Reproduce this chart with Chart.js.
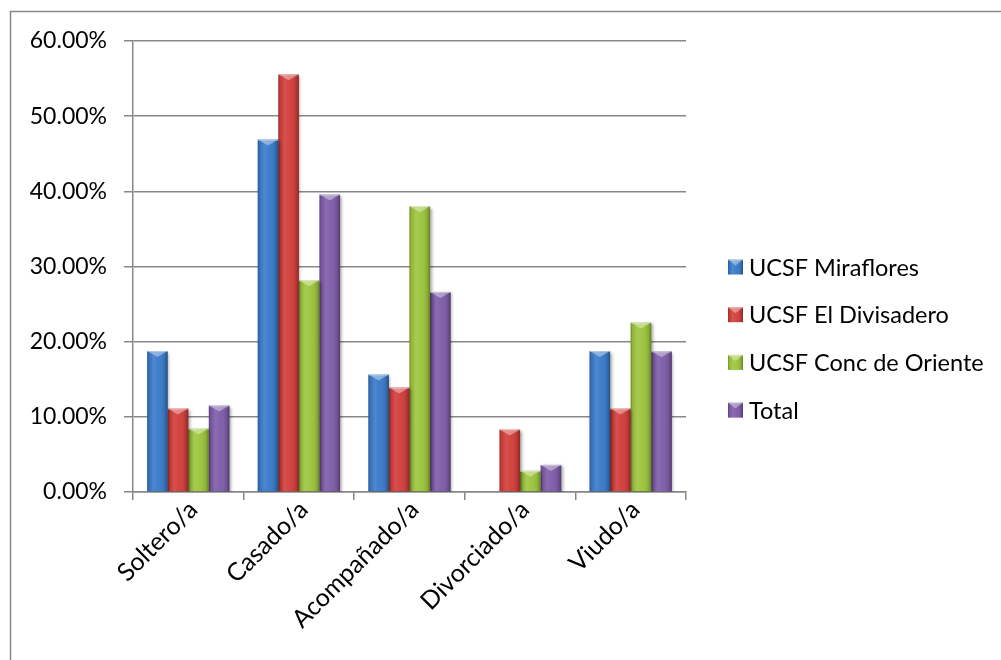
<!DOCTYPE html>
<html>
<head>
<meta charset="utf-8">
<script src="https://cdn.jsdelivr.net/npm/chart.js@4/dist/chart.umd.min.js"></script>
<style>
  html, body { margin: 0; padding: 0; background: #fff; }
  #wrap { width: 1001px; height: 660px; }
</style>
</head>
<body>
<div id="wrap"><canvas id="chart" width="1001" height="660"></canvas></div>
<script>
// Estado civil por unidad de salud (porcentaje)
const categories = ['Soltero/a', 'Casado/a', 'Acompañado/a', 'Divorciado/a', 'Viudo/a'];
const miraflores = [18.75, 46.88, 15.63, 0, 18.75];
const divisadero = [11.11, 55.56, 13.89, 8.33, 11.11];
const concOriente = [8.45, 28.17, 38.03, 2.82, 22.54];
const total = [11.51, 39.57, 26.62, 3.60, 18.71];
const seriesNames = ['UCSF Miraflores', 'UCSF El Divisadero', 'UCSF Conc de Oriente', 'Total'];
const seriesColors = ['#3a7ac9', '#d13e3b', '#9cc53d', '#7e5ca8'];
const yTickValues = [0, 10, 20, 30, 40, 50, 60];

const FONT = 'Lato, "Open Sans", sans-serif';
const FONT_SIZE = 23;
const LEGEND_FONT_SIZE = 23.5;
const X_FONT_SIZE = 25;
const LINE = '#878787';

// Bevelled look for a bar-shaped rectangle
function bevel(ctx, l, t, w, h) {
  if (h < 0.5 || w < 0.5) return;
  const r = l + w, cx = l + w / 2;
  const g = ctx.createLinearGradient(l, 0, r, 0);
  g.addColorStop(0, 'rgba(0,0,0,0.30)');
  g.addColorStop(0.10, 'rgba(0,0,0,0.05)');
  g.addColorStop(0.30, 'rgba(255,255,255,0.10)');
  g.addColorStop(0.55, 'rgba(255,255,255,0.03)');
  g.addColorStop(0.85, 'rgba(0,0,0,0.10)');
  g.addColorStop(1, 'rgba(0,0,0,0.35)');
  ctx.fillStyle = g;
  ctx.fillRect(l, t, w, h);
  const bv = Math.min(6, h);
  ctx.beginPath();
  ctx.moveTo(l, t);
  ctx.lineTo(r, t);
  ctx.lineTo(cx, t + bv);
  ctx.closePath();
  ctx.fillStyle = 'rgba(255,255,255,0.38)';
  ctx.fill();
  ctx.fillStyle = 'rgba(255,255,255,0.35)';
  ctx.fillRect(l, t, w, 1);
}

const framePlugin = {
  id: 'frame',
  beforeDraw(chart) {
    const { ctx, width, height } = chart;
    ctx.save();
    ctx.fillStyle = '#fff';
    ctx.fillRect(0, 0, width, height);
    ctx.strokeStyle = LINE;
    ctx.lineWidth = 1.5;
    ctx.beginPath();
    ctx.moveTo(10.5, height);
    ctx.lineTo(10.5, 11.5);
    ctx.lineTo(width, 11.5);
    ctx.stroke();
    ctx.restore();
  }
};

const barShading = {
  id: 'barShading',
  beforeDatasetsDraw(chart) {
    const ctx = chart.ctx;
    ctx.save();
    ctx.shadowColor = 'rgba(0,0,0,0.35)';
    ctx.shadowBlur = 3;
    ctx.shadowOffsetX = 1.5;
    ctx.shadowOffsetY = 1.5;
  },
  afterDatasetsDraw(chart) {
    const ctx = chart.ctx;
    ctx.restore();
    ctx.save();
    chart.data.datasets.forEach((ds, i) => {
      const meta = chart.getDatasetMeta(i);
      meta.data.forEach(el => {
        const p = el.getProps(['x', 'y', 'base', 'width'], true);
        const t = Math.min(p.y, p.base), b = Math.max(p.y, p.base);
        bevel(ctx, p.x - p.width / 2, t, p.width, b - t);
      });
    });
    ctx.restore();
  }
};

const sideLegend = {
  id: 'sideLegend',
  afterDraw(chart) {
    const ctx = chart.ctx;
    const x0 = 728, y0 = 267, gap = 47.7, box = 15;
    ctx.save();
    ctx.font = LEGEND_FONT_SIZE + 'px ' + FONT;
    ctx.textBaseline = 'middle';
    ctx.textAlign = 'left';
    chart.data.datasets.forEach((ds, i) => {
      const y = y0 + i * gap;
      ctx.fillStyle = ds.backgroundColor;
      ctx.fillRect(x0, y - box / 2, box, box);
      bevel(ctx, x0, y - box / 2, box, box);
      ctx.fillStyle = '#000';
      ctx.fillText(ds.label, x0 + box + 6, y + 1);
    });
    ctx.restore();
  }
};

const seriesValues = [miraflores, divisadero, concOriente, total];

new Chart(document.getElementById('chart'), {
  type: 'bar',
  data: {
    labels: categories,
    datasets: seriesValues.map((vals, i) => ({
      label: seriesNames[i],
      data: vals,
      backgroundColor: seriesColors[i],
      borderWidth: 0,
      categoryPercentage: 0.744,
      barPercentage: 1.0
    }))
  },
  options: {
    responsive: false,
    animation: false,
    devicePixelRatio: 1,
    layout: { padding: { left: 0, top: 41, right: 315, bottom: 0 } },
    plugins: {
      legend: { display: false },
      tooltip: { enabled: false }
    },
    scales: {
      x: {
        offset: true,
        grid: { display: true, drawOnChartArea: false, drawTicks: true, tickLength: 8, color: LINE, lineWidth: 1.5, offset: true },
        border: { display: true, color: LINE, width: 1.5 },
        ticks: {
          color: '#000',
          font: { family: FONT, size: X_FONT_SIZE },
          maxRotation: 45, minRotation: 45, padding: -5, labelOffset: 5, autoSkip: false
        },
        afterFit(scale) { scale.height = 168; }
      },
      y: {
        min: yTickValues[0],
        max: yTickValues[yTickValues.length - 1],
        afterBuildTicks(scale) { scale.ticks = yTickValues.map(v => ({ value: v })); },
        grid: { color: LINE, lineWidth: 1.5, tickLength: 9, drawTicks: true },
        border: { display: true, color: LINE, width: 1.5 },
        ticks: {
          color: '#000',
          font: { family: FONT, size: FONT_SIZE },
          padding: 17,
          callback: v => v.toFixed(2) + '%'
        },
        afterFit(scale) { scale.width = 133; }
      }
    }
  },
  plugins: [framePlugin, barShading, sideLegend]
});
</script>
</body>
</html>
